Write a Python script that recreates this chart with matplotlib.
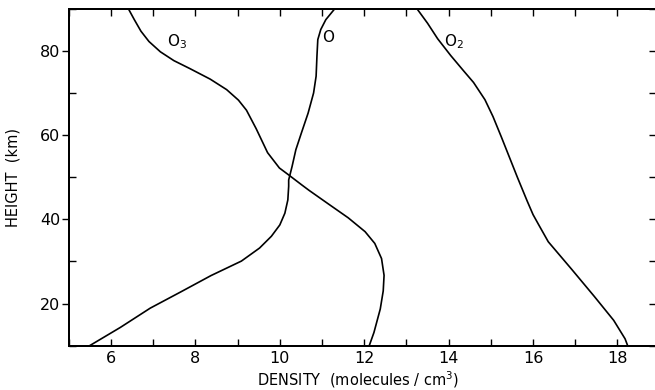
import numpy as np
import matplotlib.pyplot as plt
from matplotlib.ticker import MultipleLocator

# profiles: density (log10 molecules/cm^3) against height (km)
o3_density = [6.42, 6.55, 6.71, 6.90, 7.17, 7.49, 7.87, 8.35, 8.74, 9.02, 9.21,
              9.44, 9.71, 9.99, 10.21, 10.53, 10.69, 11.15, 11.62, 12.02, 12.25,
              12.41, 12.47, 12.45, 12.38, 12.23, 12.12]
o3_height = [90.0, 87.6, 84.8, 82.35, 79.9, 77.8, 75.9, 73.4, 70.9, 68.4, 66.0,
             61.6, 55.9, 52.25, 50.6, 48.15, 46.95, 43.7, 40.4, 37.1, 34.3,
             30.7, 26.7, 23.0, 18.7, 13.1, 10.0]

o_density = [11.29, 11.09, 10.97, 10.90, 10.88, 10.86, 10.80, 10.67, 10.51, 10.38,
             10.29, 10.21, 10.21, 10.19, 10.12, 10.00, 9.80, 9.52, 9.09, 8.37,
             7.66, 6.93, 6.22, 5.50]
o_height = [90.0, 87.55, 85.2, 82.8, 78.9, 74.1, 70.1, 65.3, 60.55, 56.6,
            52.6, 49.4, 47.9, 44.65, 41.5, 38.7, 36.0, 33.2, 30.1, 26.65,
            22.8, 18.9, 14.3, 10.0]

o2_density = [13.26, 13.50, 13.74, 14.05, 14.36, 14.59, 14.86, 15.05, 15.25, 15.44,
              15.63, 15.86, 16.00, 16.13, 16.36, 16.91, 17.45, 17.91, 18.18, 18.24]
o2_height = [90.0, 86.7, 83.0, 79.0, 75.3, 72.6, 68.5, 64.5, 59.6, 54.8,
             50.0, 44.4, 41.15, 38.8, 34.7, 28.2, 21.7, 16.0, 11.6, 10.0]

x_ticks = [6, 8, 10, 12, 14, 16, 18]
y_ticks = [20, 40, 60, 80]

plt.rcParams['font.family'] = ['DejaVu Sans']

fig = plt.figure(figsize=(6.55, 3.9), dpi=100)
ax = fig.add_axes([0.105, 0.114, 0.897, 0.862])

for dens, h in [(o3_density, o3_height), (o_density, o_height), (o2_density, o2_height)]:
    ax.plot(dens, h, color='black', lw=1.2, solid_joinstyle='round')

ax.text(7.56, 82.4, 'O$_3$', fontsize=11, ha='center', va='center')
ax.text(11.15, 83.4, 'O', fontsize=11, ha='center', va='center')
ax.text(14.12, 82.2, 'O$_2$', fontsize=11, ha='center', va='center')

ax.set_xlim(5, 18.92)
ax.set_ylim(10, 90)
ax.set_xticks(x_ticks)
ax.xaxis.set_minor_locator(MultipleLocator(1))
ax.set_yticks(y_ticks)
ax.yaxis.set_minor_locator(MultipleLocator(10))

ax.tick_params(axis='x', which='both', direction='in', top=True, length=5,
               width=1, labelsize=11.5, pad=4)
ax.tick_params(axis='y', which='major', direction='out', length=5, width=1,
               labelsize=11.5, pad=1)
ax.tick_params(axis='y', which='minor', direction='in', length=5, width=1)

# inward ticks along the right edge
ax2 = ax.twinx()
ax2.set_ylim(10, 90)
ax2.yaxis.set_major_locator(MultipleLocator(10))
ax2.tick_params(axis='y', direction='in', length=5, width=1, labelright=False)

for a in (ax, ax2):
    for s in a.spines.values():
        s.set_linewidth(1.4)

ax.set_xlabel('DENSITY  (molecules / cm$^3$)', fontsize=10.5)
ax.xaxis.set_label_coords(0.492, -0.072, transform=ax.transAxes)
ax.set_ylabel('HEIGHT  (km)', fontsize=10.5)
ax.yaxis.set_label_coords(-0.083, 0.5, transform=ax.transAxes)

fig.savefig('out.png', dpi=100)
